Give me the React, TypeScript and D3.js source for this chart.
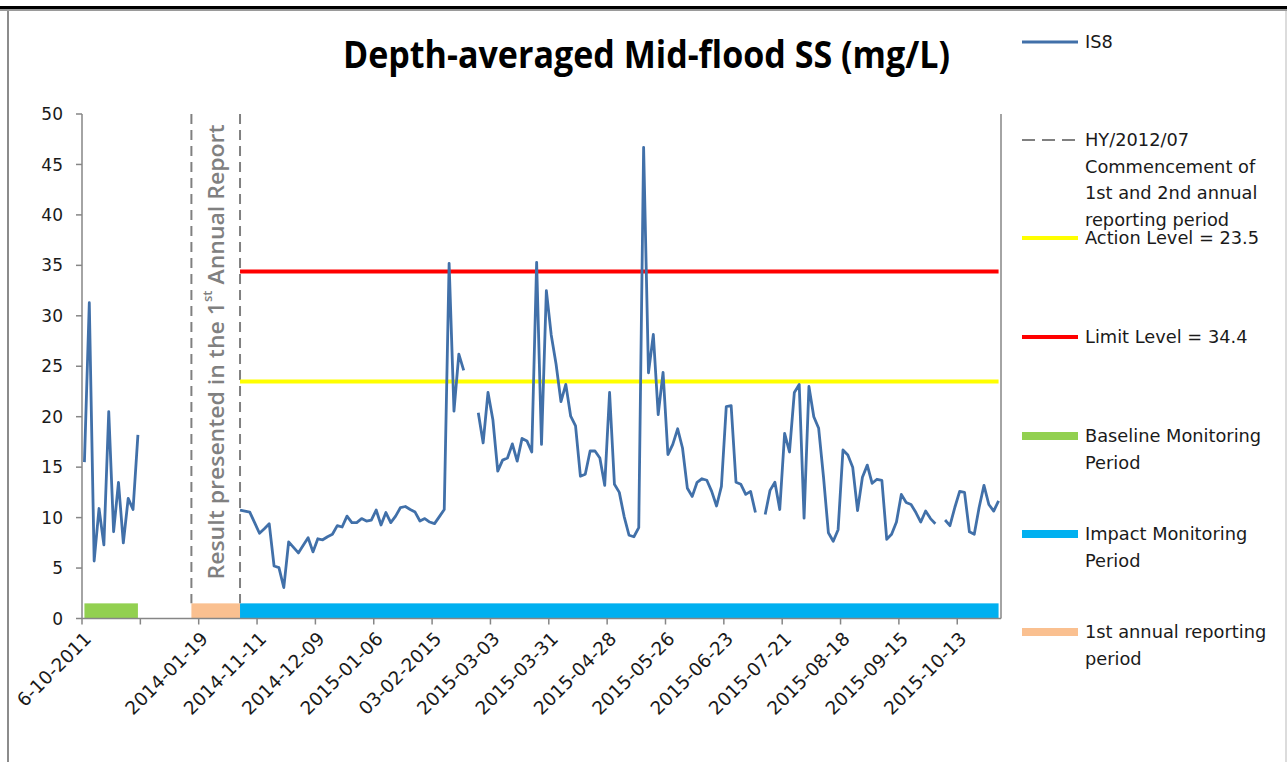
import React from "react";
import * as d3 from "d3";

// ---------- DATA ----------
const N_CATEGORIES = 189;
const LABEL_STEP = 12;
const tickLabels = [
  "6-10-2011", "", "2014-01-19", "2014-11-11", "2014-12-09", "2015-01-06",
  "03-02-2015", "2015-03-03", "2015-03-31", "2015-04-28", "2015-05-26",
  "2015-06-23", "2015-07-21", "2015-08-18", "2015-09-15", "2015-10-13",
];
const yTicks = [0, 5, 10, 15, 20, 25, 30, 35, 40, 45, 50];

// IS8 baseline monitoring values (categories 0..11)
const baselineStart = 0;
const baselineValues = [15.5, 31.3, 5.7, 10.9, 7.3, 20.5, 8.6, 13.5, 7.5, 11.9, 10.8, 18.2];

// IS8 impact monitoring values (categories 32..188), null = no data
const impactStart = 32;
const impactValues: (number | null)[] = [
  10.75, 10.65, 10.55, 9.5, 8.45, 8.9, 9.4, 5.2, 5.05, 3.07,
  7.6, 7.05, 6.5, 7.25, 8.0, 6.6, 7.9, 7.8, 8.1, 8.35,
  9.2, 9.07, 10.15, 9.5, 9.5, 9.9, 9.66, 9.76, 10.75, 9.27,
  10.5, 9.5, 10.15, 11.0, 11.1, 10.8, 10.55, 9.66, 9.9, 9.56,
  9.4, 10.1, 10.8, 35.2, 20.55, 26.2, 24.6, null, null, 20.4,
  17.4, 22.4, 19.7, 14.6, 15.7, 15.9, 17.3, 15.6, 17.85, 17.6,
  16.5, 35.3, 17.25, 32.5, 28.1, 25.2, 21.5, 23.2, 20.05, 19.1,
  14.1, 14.3, 16.6, 16.6, 15.9, 13.2, 22.4, 13.3, 12.5, 10.1,
  8.25, 8.1, 9.0, 46.7, 24.35, 28.15, 20.2, 24.4, 16.25, 17.25,
  18.8, 16.9, 12.9, 12.1, 13.5, 13.85, 13.7, 12.6, 11.15, 13.1,
  21.0, 21.1, 13.5, 13.3, 12.3, 12.6, 10.5, null, 10.3, 12.7,
  13.5, 10.8, 18.35, 16.5, 22.4, 23.2, 9.95, 23.0, 20.0, 18.85,
  14.0, 8.5, 7.65, 8.8, 16.7, 16.2, 15.0, 10.7, 14.0, 15.2,
  13.4, 13.8, 13.7, 7.85, 8.35, 9.56, 12.3, 11.5, 11.3, 10.5,
  9.56, 10.65, 9.9, 9.4, null, 9.76, 9.2, 11.0, 12.6, 12.5,
  8.6, 8.35, 11.0, 13.2, 11.3, 10.65, 11.65,
];

const actionLevel = 23.5;
const limitLevel = 34.4;
const levelStart = 32;
const levelEnd = 188;

const periodNames = ["Baseline Monitoring Period", "1st annual reporting period", "Impact Monitoring Period"];
const periodStart = [0, 22, 32];
const periodEnd = [11, 32, 188];
const periodHeight = 1.5;
const reportLineCategories = [22, 32];

// ---------- STYLE ----------
const COL_LINE = "#4170A9";
const COL_ACTION = "#FFFF00";
const COL_LIMIT = "#FF0000";
const COL_DASH = "#808080";
const periodColors = ["#92D050", "#FAC090", "#00B0F0"];
const AXIS_COL = "#868686";
const FONT = "'DejaVu Sans', Verdana, sans-serif";

export default function App() {
  const W = 1287, H = 762;
  const left = 82, right = 1001, top = 114, bottom = 618.5;

  const x = d3.scaleBand<number>().domain(d3.range(N_CATEGORIES)).range([left, right]).paddingInner(0).paddingOuter(0);
  const bw = x.bandwidth();
  const cx = (i: number) => (x(Math.floor(i)) ?? left) + (i - Math.floor(i)) * bw + bw / 2;
  const y = d3.scaleLinear().domain([0, 50]).range([bottom, top]);

  const points: { i: number; v: number | null }[] = [];
  for (let i = 0; i < N_CATEGORIES; i++) points.push({ i, v: null });
  baselineValues.forEach((v, k) => (points[baselineStart + k].v = v));
  impactValues.forEach((v, k) => (points[impactStart + k].v = v));

  const line = d3
    .line<{ i: number; v: number | null }>()
    .defined((d) => d.v != null)
    .x((d) => cx(d.i))
    .y((d) => y(d.v as number));

  const tickIdx = tickLabels.map((_, k) => k * LABEL_STEP);
  const boundary = (i: number) => (x(i) ?? right);

  // legend layout
  const lgX1 = 1022, lgX2 = 1078, lgTX = 1085, lh = 26.5;
  const legendFont = 17.8;

  return (
    <svg width={W} height={H} style={{ position: "absolute", left: 0, top: 0, background: "#fff" }} fontFamily={FONT}>
      {/* frame */}
      <rect x={0} y={0} width={W} height={H} fill="#fff" />
      <line x1={0} x2={W} y1={7.5} y2={7.5} stroke="#000" strokeWidth={3} />
      <line x1={0} x2={W} y1={10} y2={10} stroke="#9a9a9a" strokeWidth={2} />
      <line x1={8} x2={8} y1={11} y2={H} stroke="#8c8c8c" strokeWidth={2} />
      <line x1={1286} x2={1286} y1={11} y2={H} stroke="#d0d0d0" strokeWidth={1.5} />

      {/* title */}
      <text x={343} y={68} fontFamily="'Open Sans', 'DejaVu Sans', sans-serif"
        fontWeight="bold" fontSize={38} textLength={607} lengthAdjust="spacingAndGlyphs" fill="#000">
        Depth-averaged Mid-flood SS (mg/L)
      </text>

      {/* period bars */}
      {periodNames.map((n, k) => (
        <rect key={n} x={cx(periodStart[k])} width={cx(periodEnd[k]) - cx(periodStart[k])}
          y={y(periodHeight)} height={y(0) - y(periodHeight)} fill={periodColors[k]} />
      ))}

      {/* reporting dashed lines */}
      {reportLineCategories.map((c) => (
        <line key={c} x1={cx(c)} x2={cx(c)} y1={y(50)} y2={y(periodHeight)} stroke={COL_DASH}
          strokeWidth={2} strokeDasharray="10,6" />
      ))}

      {/* rotated annotation */}
      <text transform={`translate(${(cx(22) + cx(32)) / 2},352) rotate(-90)`} textAnchor="middle"
        dominantBaseline="central" fontFamily="'Open Sans', 'DejaVu Sans', sans-serif" fontWeight={600}
        fontSize={21} fill="#808080" textLength={455} lengthAdjust="spacingAndGlyphs">
        Result presented in the 1<tspan fontSize={12} baselineShift="super">st</tspan> Annual Report
      </text>

      {/* level lines */}
      <line x1={cx(levelStart)} x2={cx(levelEnd)} y1={y(actionLevel)} y2={y(actionLevel)} stroke={COL_ACTION} strokeWidth={4} />
      <line x1={cx(levelStart)} x2={cx(levelEnd)} y1={y(limitLevel)} y2={y(limitLevel)} stroke={COL_LIMIT} strokeWidth={4} />

      {/* axes */}
      <line x1={left} x2={left} y1={top} y2={bottom} stroke={AXIS_COL} strokeWidth={1.5} />
      <line x1={right} x2={right} y1={top} y2={bottom} stroke={AXIS_COL} strokeWidth={1.5} />
      <line x1={left} x2={right} y1={bottom} y2={bottom} stroke={AXIS_COL} strokeWidth={1.5} />
      {yTicks.map((t) => (
        <g key={t}>
          <line x1={left - 6} x2={left} y1={y(t)} y2={y(t)} stroke={AXIS_COL} strokeWidth={1.5} />
          <text x={63} y={y(t)} dy="0.36em" textAnchor="end" fontSize={17} fill="#1a1a1a">{t}</text>
        </g>
      ))}
      {tickIdx.map((i) => (
        <line key={"t" + i} x1={boundary(i)} x2={boundary(i)} y1={bottom} y2={bottom + 6} stroke={AXIS_COL} strokeWidth={1.5} />
      ))}
      {tickLabels.map((lab, k) =>
        lab ? (
          <text key={lab} transform={`translate(${cx(tickIdx[k]) + 8},${640}) rotate(-45)`} textAnchor="end"
            fontSize={18.5} fill="#1a1a1a">{lab}</text>
        ) : null
      )}

      {/* data line */}
      <path d={line(points) ?? ""} fill="none" stroke={COL_LINE} strokeWidth={2.8} strokeLinejoin="round" />

      {/* legend */}
      <g fontSize={legendFont} fill="#1a1a1a">
        <line x1={lgX1} x2={lgX2} y1={42} y2={42} stroke={COL_LINE} strokeWidth={3} />
        <text x={lgTX} y={42} dy="0.36em">IS8</text>

        <line x1={lgX1} x2={lgX2} y1={140} y2={140} stroke={COL_DASH} strokeWidth={2} strokeDasharray="13,7" />
        {["HY/2012/07", "Commencement of", "1st and 2nd annual", "reporting period"].map((t, k) => (
          <text key={t} x={lgTX} y={140 + k * lh} dy="0.36em">{t}</text>
        ))}

        <line x1={lgX1} x2={lgX2} y1={238} y2={238} stroke={COL_ACTION} strokeWidth={4} />
        <text x={lgTX} y={238} dy="0.36em">Action Level = {actionLevel}</text>

        <line x1={lgX1} x2={lgX2} y1={337} y2={337} stroke={COL_LIMIT} strokeWidth={4} />
        <text x={lgTX} y={337} dy="0.36em">Limit Level = {limitLevel}</text>

        {[
          { c: periodColors[0], y: 436, l: ["Baseline Monitoring", "Period"] },
          { c: periodColors[2], y: 534, l: ["Impact Monitoring", "Period"] },
          { c: periodColors[1], y: 632, l: ["1st annual reporting", "period"] },
        ].map((it) => (
          <g key={it.l[0]}>
            <line x1={lgX1} x2={lgX2} y1={it.y} y2={it.y} stroke={it.c} strokeWidth={8} />
            {it.l.map((t, k) => (
              <text key={t} x={lgTX} y={it.y + k * lh} dy="0.36em">{t}</text>
            ))}
          </g>
        ))}
      </g>
    </svg>
  );
}
